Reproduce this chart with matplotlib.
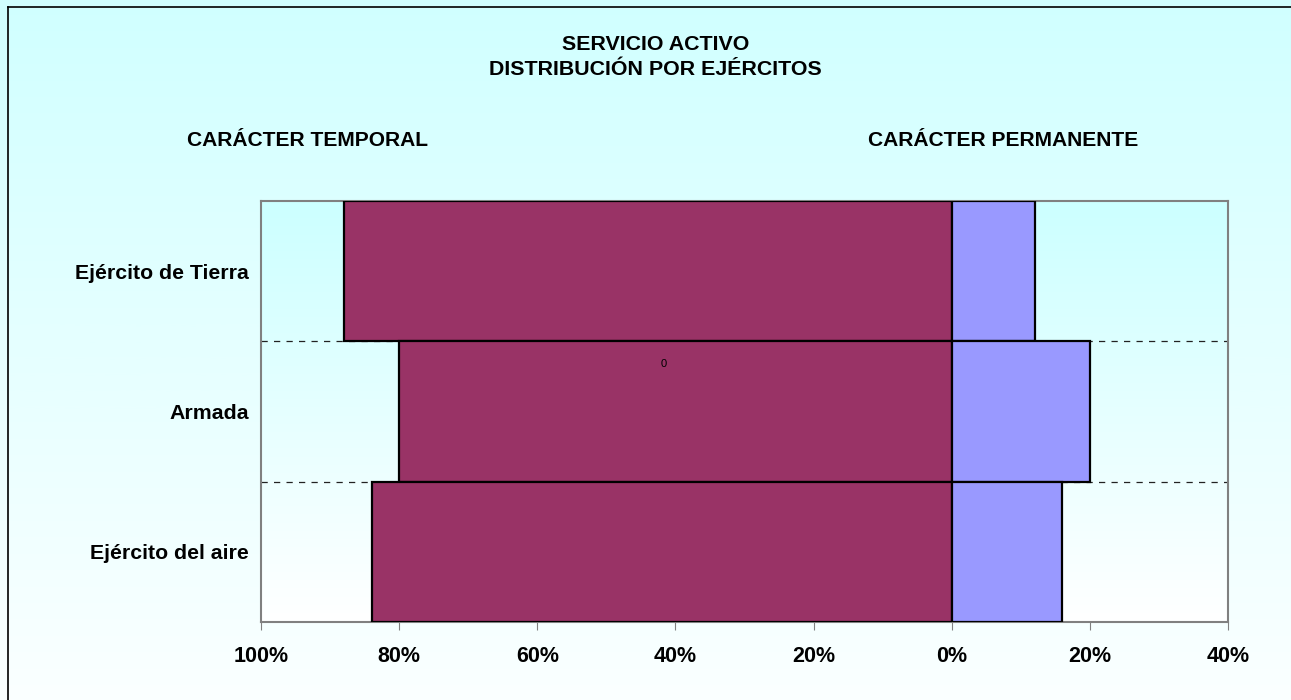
import numpy as np
import matplotlib
matplotlib.use("Agg")
import matplotlib.pyplot as plt
from matplotlib.colors import LinearSegmentedColormap
from matplotlib.lines import Line2D

plt.rcParams['font.family'] = ['Liberation Sans', 'DejaVu Sans']

categories = ["Ejército de Tierra", "Armada", "Ejército del aire"]
temporal = [88, 80, 84]      # % carácter temporal (drawn to the left)
permanente = [12, 20, 16]    # % carácter permanente (drawn to the right)
xticks = [-100, -80, -60, -40, -20, 0, 20, 40]
xticklabels = ["100%", "80%", "60%", "40%", "20%", "0%", "20%", "40%"]

W, H = 1291, 700
fig = plt.figure(figsize=(W / 100, H / 100), dpi=100)

cmap = LinearSegmentedColormap.from_list("g", ["#CCFFFF", "#FFFFFF"])
grad = np.linspace(0, 1, 256).reshape(-1, 1)

# figure background gradient
bg = fig.add_axes([0, 0, 1, 1], zorder=-10)
bg.imshow(grad, aspect='auto', cmap=cmap, extent=[0, 1, 0, 1], origin='upper',
          vmin=-0.1, vmax=1.1)
bg.set_xlim(0, 1)
bg.set_ylim(0, 1)
bg.axis('off')
bg.add_line(Line2D([8 / W, 8 / W], [0, 1 - 7 / H], color='black', lw=1.2))
bg.add_line(Line2D([8 / W, 1], [1 - 7 / H, 1 - 7 / H], color='black', lw=1.2))

ax = fig.add_axes([261 / W, 1 - 622 / H, (1228 - 261) / W, (622 - 201) / H])
ax.set_xlim(-100, 40)
ax.set_ylim(-0.5, 2.5)
ax.imshow(grad, aspect='auto', cmap=cmap, extent=[-100, 40, -0.5, 2.5],
          origin='upper', zorder=0)

ypos = np.arange(len(categories))[::-1]
ax.barh(ypos, [-v for v in temporal], height=1.0, color='#993366',
        edgecolor='black', linewidth=1.6, zorder=3)
ax.barh(ypos, permanente, height=1.0, color='#9999FF',
        edgecolor='black', linewidth=1.6, zorder=3)

for yb in [0.5, 1.5]:
    ax.axhline(yb, color='#222222', lw=0.9, ls=(0, (5, 5)), zorder=2)

ax.set_xticks(xticks)
ax.set_xticklabels(xticklabels, fontsize=15.5, fontweight='bold')
ax.set_yticks(ypos)
ax.set_yticklabels(categories, fontsize=15.3, fontweight='bold')
ax.tick_params(axis='y', length=0, pad=8.6)
ax.tick_params(axis='x', length=6, color='#808080', pad=11.5)
for s in ax.spines.values():
    s.set_color('#808080')
    s.set_linewidth(1.5)

ax.text(-41.7, 1.338, "0", fontsize=8, ha='center', va='center', zorder=5)

fig.text(655.5 / W, 1 - 45 / H, "SERVICIO ACTIVO", ha='center', va='center',
         fontsize=15.4, fontweight='bold')
fig.text(655.5 / W, 1 - 69.5 / H, "DISTRIBUCIÓN POR EJÉRCITOS", ha='center',
         va='center', fontsize=15.4, fontweight='bold')
fig.text(307.5 / W, 1 - 140.5 / H, "CARÁCTER TEMPORAL", ha='center', va='center',
         fontsize=15.1, fontweight='bold')
fig.text(1003.5 / W, 1 - 140.5 / H, "CARÁCTER PERMANENTE", ha='center',
         va='center', fontsize=15.1, fontweight='bold')

fig.savefig("out.png", dpi=100)
